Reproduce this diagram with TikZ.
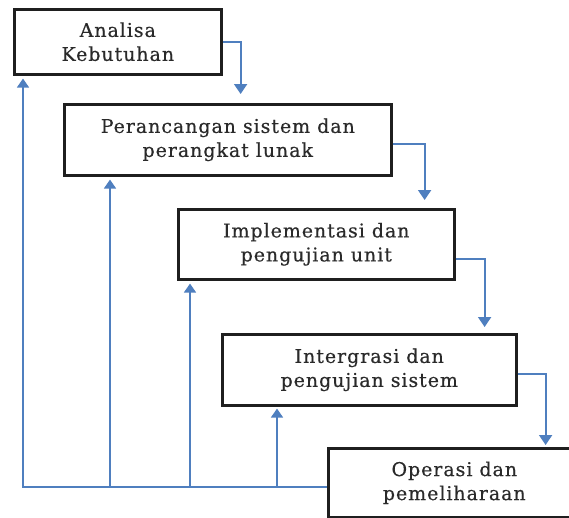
\documentclass[tikz,border=0pt]{standalone}
\usepackage{fontspec}
\setmainfont{DejaVu Serif}[LetterSpace=5,FakeBold=0.4]
\usetikzlibrary{arrows.meta,calc}
\definecolor{flowblue}{HTML}{4F7FBF}
\definecolor{inkgray}{HTML}{2A2A2A}
\begin{document}
\begin{tikzpicture}[x=1pt,y=-1pt,
  stage/.style={draw=black!88, line width=2.6pt, fill=white, inner sep=0pt,
    anchor=north west, align=center, text=inkgray,
    font=\fontsize{19}{24}\selectfont},
  flow/.style={draw=flowblue, line width=1.9pt,
    -{Triangle[width=13pt,length=10pt]}},
  back/.style={draw=flowblue, line width=1.7pt,
    -{Triangle[width=12pt,length=9pt]}}]
\useasboundingbox (0,0) rectangle (569,517);
\clip (0,0) rectangle (569,517);
\fill[white] (0,0) rectangle (569,517);

% the five phases
\node[stage, minimum width=207pt, minimum height=65pt] (b1) at (13,8)
  {Analisa\\Kebutuhan};
\node[stage, minimum width=327pt, minimum height=71pt] (b2) at (63,103)
  {Perancangan sistem dan\\perangkat lunak};
\node[stage, minimum width=276pt, minimum height=70pt] (b3) at (177,208)
  {Implementasi dan\\pengujian unit};
\node[stage, minimum width=294pt, minimum height=71pt] (b4) at (221,333)
  {Intergrasi dan\\pengujian sistem};
\node[stage, minimum width=252pt, minimum height=69pt] (b5) at (327,447)
  {Operasi dan\\pemeliharaan};

% forward flow, stepping down to the next phase
\coordinate (o1) at ($(b1.north east)!0.5!(b1.south east)$);
\coordinate (o2) at ($(b2.north east)!0.56!(b2.south east)$);
\coordinate (o3) at ($(b3.north east)!0.70!(b3.south east)$);
\coordinate (o4) at ($(b4.north east)!0.56!(b4.south east)$);
\draw[flow, shorten >=9pt] (o1) -- ++(18,0) coordinate (t1) -- (t1 |- b2.north);
\draw[flow, shorten >=8pt] (o2) -- ++(32,0) coordinate (t2) -- (t2 |- b3.north);
\draw[flow, shorten >=6pt] (o3) -- ++(29,0) coordinate (t3) -- (t3 |- b4.north);
\draw[flow, shorten >=2pt] (o4) -- ++(28,0) coordinate (t4) -- (t4 |- b5.north);

% feedback from operation back to every earlier phase
\coordinate (f1) at (23,487);
\coordinate (f2) at (110,487);
\coordinate (f3) at (190,487);
\coordinate (f4) at (277,487);
\draw[back, shorten >=3pt] (b5.west |- f1) -- (f1) -- (f1 |- b1.south);
\draw[back, shorten >=3pt] (f2) -- (f2 |- b2.south);
\draw[back, shorten >=3pt] (f3) -- (f3 |- b3.south);
\draw[back, shorten >=2pt] (f4) -- (f4 |- b4.south);
\end{tikzpicture}
\end{document}
